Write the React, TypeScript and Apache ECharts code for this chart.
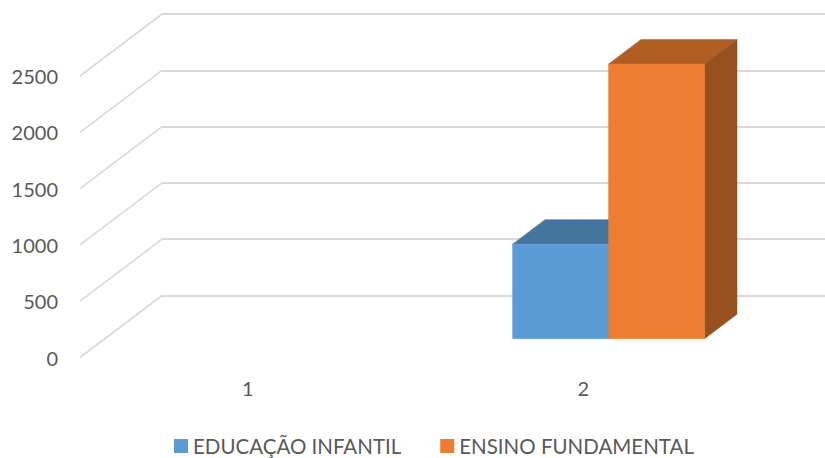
import React, { useEffect, useRef } from "react";
import * as echarts from "echarts";

const categories = ["1", "2"];
const infantil = [null, 840];
const fundamental = [null, 2440];
const ticks = [0, 500, 1000, 1500, 2000, 2500];

const FONT = "Lato, Carlito, 'Open Sans', sans-serif";
const BACK_DX = 82;
const BACK_DY = -62;
const BAR_W = 96;
const D_FRONT = 0.303;
const D_BACK = 0.698;

function barRenderer(seriesIndex: number, front: string, top: string, side: string) {
  return (_p: any, api: any) => {
    const v = api.value(1);
    if (v == null || isNaN(v)) return null as any;
    const base = api.coord([api.value(0), 0]);
    const head = api.coord([api.value(0), v]);
    const x0 = base[0] + (seriesIndex - 1) * BAR_W + BACK_DX * D_FRONT + 0.5;
    const x1 = x0 + BAR_W;
    const yb = base[1] + BACK_DY * D_FRONT;
    const yt = head[1] + BACK_DY * D_FRONT;
    const dx = BACK_DX * (D_BACK - D_FRONT);
    const dy = BACK_DY * (D_BACK - D_FRONT);
    const poly = (points: number[][], fill: string) => ({
      type: "polygon",
      shape: { points },
      style: { fill, stroke: fill, lineWidth: 0.5 },
    });
    return {
      type: "group",
      children: [
        poly([[x0, yt], [x1, yt], [x1 + dx, yt + dy], [x0 + dx, yt + dy]], top),
        poly([[x1, yb], [x1 + dx, yb + dy], [x1 + dx, yt + dy], [x1, yt]], side),
        poly([[x0, yb], [x1, yb], [x1, yt], [x0, yt]], front),
      ],
    };
  };
}

export default function App() {
  const ref = useRef<HTMLDivElement>(null);
  useEffect(() => {
    const chart = echarts.init(ref.current!, null, { renderer: "svg" });
    chart.setOption({
      animation: false,
      backgroundColor: "#ffffff",
      textStyle: { fontFamily: FONT },
      legend: {
        left: 174,
        top: 434,
        padding: 0,
        icon: "rect",
        itemWidth: 14,
        itemHeight: 14,
        itemGap: 39,
        selectedMode: false,
        textStyle: { fontFamily: FONT, fontSize: 20.5, lineHeight: 24, color: "#595959" },
        data: ["EDUCAÇÃO INFANTIL", "ENSINO FUNDAMENTAL"],
      },
      grid: [
        { left: 80, top: 76, width: 671, height: 281.5 },
        { left: 162, top: 14, right: 0, height: 281.5 },
      ],
      xAxis: [
        {
          type: "category",
          gridIndex: 0,
          data: categories,
          axisLine: { show: false },
          axisTick: { show: false },
          axisLabel: { fontFamily: FONT, fontSize: 20, color: "#595959", margin: 20 },
        },
        { type: "value", gridIndex: 1, show: false, min: 0, max: 1 },
      ],
      yAxis: [
        {
          type: "value",
          gridIndex: 0,
          min: 0,
          max: 2500,
          interval: 500,
          axisLine: { show: false },
          axisTick: { show: false },
          splitLine: { show: false },
          axisLabel: {
            fontFamily: FONT,
            fontSize: 20,
            color: "#595959",
            margin: 22,
            formatter: (v: number) => String(v),
          },
        },
        {
          type: "value",
          gridIndex: 1,
          min: 0,
          max: 2500,
          interval: 500,
          axisLine: { show: false },
          axisTick: { show: false },
          axisLabel: { show: false },
          splitLine: { show: true, lineStyle: { color: "#d9d9d9", width: 2 } },
        },
      ],
      series: [
        {
          type: "custom",
          name: "wall",
          xAxisIndex: 0,
          yAxisIndex: 0,
          silent: true,
          clip: false,
          data: ticks.map((t) => [0, t]),
          renderItem: (_p: any, api: any) => {
            const y = api.coord([0, api.value(1)])[1];
            const x = 80;
            return {
              type: "line",
              shape: { x1: x, y1: y, x2: x + BACK_DX, y2: y + BACK_DY },
              style: { stroke: "#d9d9d9", lineWidth: 1.6 },
            };
          },
        },
        {
          type: "custom",
          name: "EDUCAÇÃO INFANTIL",
          xAxisIndex: 0,
          yAxisIndex: 0,
          clip: false,
          itemStyle: { color: "#5b9bd5" },
          data: infantil.map((v, i) => [i, v]),
          renderItem: barRenderer(0, "#5b9bd5", "#44759f", "#34587a"),
        },
        {
          type: "custom",
          name: "ENSINO FUNDAMENTAL",
          xAxisIndex: 0,
          yAxisIndex: 0,
          clip: false,
          itemStyle: { color: "#ed7d31" },
          data: fundamental.map((v, i) => [i, v]),
          renderItem: barRenderer(1, "#ed7d31", "#b15e25", "#975020"),
        },
      ],
    });
    return () => chart.dispose();
  }, []);
  return <div ref={ref} style={{ position: "fixed", left: 0, top: 0, width: 825, height: 458 }} />;
}
